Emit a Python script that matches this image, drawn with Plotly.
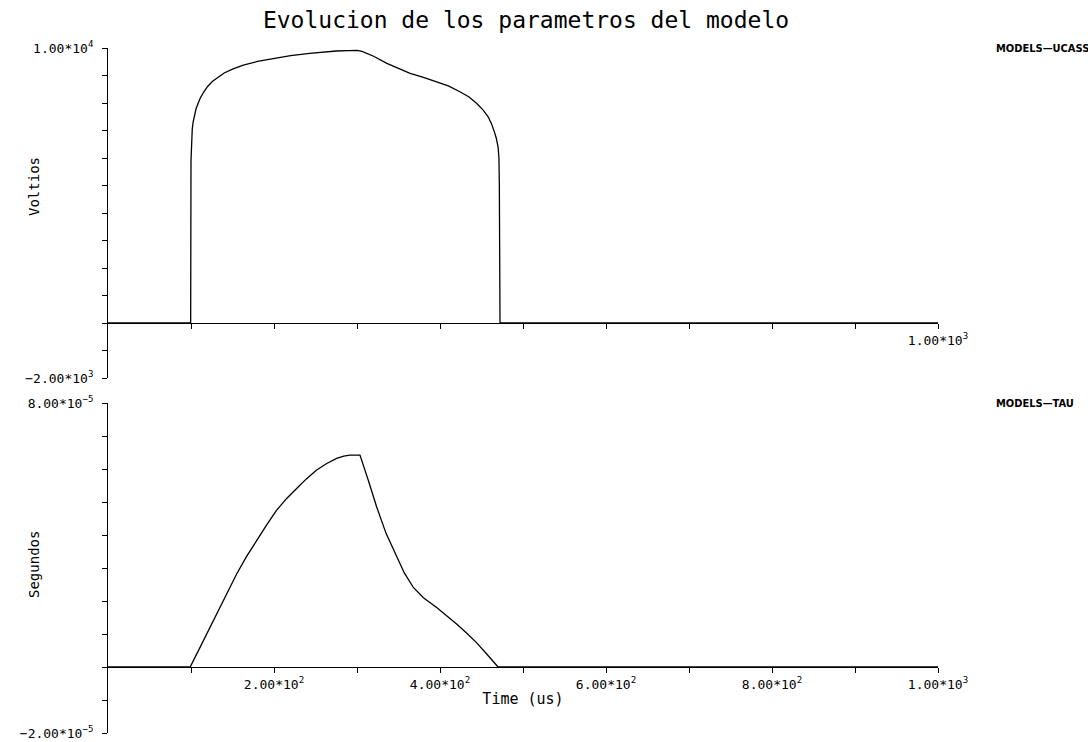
import plotly.graph_objects as go

# ---- data ----
t_ucass = [0, 99.6, 100, 100.3, 100.8, 101.5, 102.5, 104, 106, 108.5, 111, 115, 120, 126, 133,
           140, 150, 163, 180, 199, 220, 243, 260, 275, 290, 300, 306, 320, 336, 350, 364, 380,
           396, 410, 424, 435, 444, 452, 458, 462, 465.5, 468, 470, 471, 471.5, 472, 472.3, 1000]
v_ucass = [0, 0, 5900, 6400, 6780, 7050, 7300, 7560, 7780, 7980, 8170, 8380, 8600, 8790, 8950,
           9090, 9230, 9380, 9510, 9620, 9720, 9806, 9855, 9890, 9905, 9910, 9880, 9700, 9440,
           9250, 9080, 8930, 8776, 8620, 8410, 8220, 7990, 7740, 7500, 7250, 6950, 6700, 6400,
           6000, 5000, 1560, 0, 0]

t_tau = [0, 99, 110, 122.9, 140, 155, 167, 179, 191, 203, 215, 227, 239, 251, 263, 275.5, 284,
         291.6, 303.6, 313.6, 323.7, 335, 347.8, 357, 367.9, 380, 396, 408, 420, 432, 444, 456,
         465, 470, 1000]
v_tau = [0, 0, 5.5e-6, 1.195e-5, 2.05e-5, 2.82e-5, 3.35e-5, 3.83e-5, 4.3e-5, 4.745e-5, 5.1e-5,
         5.40e-5, 5.7e-5, 5.96e-5, 6.16e-5, 6.32e-5, 6.39e-5, 6.42e-5, 6.42e-5, 5.66e-5,
         4.85e-5, 4.05e-5, 3.32e-5, 2.85e-5, 2.41e-5, 2.1e-5, 1.80e-5, 1.56e-5, 1.30e-5,
         1.03e-5, 7.4e-6, 4.0e-6, 1.3e-6, 0, 0]

x_ticks = [100, 200, 300, 400, 500, 600, 700, 800, 900, 1000]
x_text_top = ["", "", "", "", "", "", "", "", "", "1.00*10<sup>3</sup>"]
x_text_bot = ["", "2.00*10<sup>2</sup>", "", "4.00*10<sup>2</sup>", "", "6.00*10<sup>2</sup>",
              "", "8.00*10<sup>2</sup>", "", "1.00*10<sup>3</sup>"]

y1_ticks = [-2000, -1000, 0, 1000, 2000, 3000, 4000, 5000, 6000, 7000, 8000, 9000, 10000]
y1_text = ["\u22122.00*10<sup>3</sup>"] + [""] * 11 + ["1.00*10<sup>4</sup>"]
y2_ticks = [-2e-5, -1e-5, 0, 1e-5, 2e-5, 3e-5, 4e-5, 5e-5, 6e-5, 7e-5, 8e-5]
y2_text = ["\u22122.00*10<sup>\u22125</sup>"] + [""] * 9 + ["8.00*10<sup>\u22125</sup>"]

y1_range = [-2000, 10000]
y2_range = [-2e-5, 8e-5]

# ---- layout geometry (body margin removed by post_script) ----
W, H = 1088, 742


def px(x):
    return x / W


def py(y):
    return 1 - y / H


xd = [px(108), px(938)]
yd1 = [py(378), py(48)]
yd2 = [py(733), py(403)]
zero1 = yd1[0] + (0 - y1_range[0]) / (y1_range[1] - y1_range[0]) * (yd1[1] - yd1[0])
zero2 = yd2[0] + (0 - y2_range[0]) / (y2_range[1] - y2_range[0]) * (yd2[1] - yd2[0])

FONT = "DejaVu Sans Mono"
tickfont = dict(family=FONT, size=13, color="black")

fig = go.Figure()
fig.add_trace(go.Scatter(x=t_ucass, y=v_ucass, mode="lines", xaxis="x", yaxis="y",
                         line=dict(color="black", width=1.3), showlegend=False))
fig.add_trace(go.Scatter(x=t_tau, y=v_tau, mode="lines", xaxis="x2", yaxis="y2",
                         line=dict(color="black", width=1.3), showlegend=False))

common_x = dict(range=[0, 1000], domain=xd, anchor="free", showline=True, linecolor="black",
                linewidth=1, ticks="outside", ticklen=5, tickcolor="black", tickvals=x_ticks,
                showgrid=False, zeroline=False, tickfont=tickfont, tickangle=0, automargin=False)
common_y = dict(showline=True, linecolor="black", linewidth=1, ticks="outside", ticklen=5,
                tickcolor="black", showgrid=False, zeroline=False, tickfont=tickfont,
                automargin=False, ticklabelstandoff=6)

fig.update_layout(
    width=W, height=H, margin=dict(l=0, r=0, t=0, b=0, autoexpand=False),
    paper_bgcolor="white", plot_bgcolor="white",
    xaxis=dict(**common_x, position=zero1, ticktext=x_text_top),
    yaxis=dict(**common_y, domain=yd1, range=y1_range, anchor="x", tickvals=y1_ticks,
               ticktext=y1_text),
    xaxis2=dict(**common_x, position=zero2, ticktext=x_text_bot,
                title=dict(text="Time (us)", font=dict(family=FONT, size=15, color="black"),
                           standoff=2)),
    yaxis2=dict(**common_y, domain=yd2, range=y2_range, anchor="x2", tickvals=y2_ticks,
                ticktext=y2_text),
    title=dict(text="Evolucion de los parametros del modelo", x=px(526), xanchor="center",
               y=py(20), yanchor="middle", xref="paper", yref="container",
               font=dict(family=FONT, size=23, color="black")),
    annotations=[
        dict(text="Voltios", x=px(34), y=py(187), xref="paper", yref="paper",
             xanchor="center", yanchor="middle",
             textangle=-90, showarrow=False, font=dict(family=FONT, size=14, color="black")),
        dict(text="Segundos", x=px(34), y=py(565), xref="paper", yref="paper",
             xanchor="center", yanchor="middle",
             textangle=-90, showarrow=False, font=dict(family=FONT, size=14, color="black")),
        dict(text="<b>MODELS\u2014UCASS</b>", x=px(994), y=py(48), xref="paper", yref="paper",
             xanchor="left", yanchor="middle", showarrow=False,
             font=dict(family="DejaVu Sans Condensed, DejaVu Sans", size=11, color="black")),
        dict(text="<b>MODELS\u2014TAU</b>", x=px(994), y=py(403), xref="paper", yref="paper",
             xanchor="left", yanchor="middle", showarrow=False,
             font=dict(family="DejaVu Sans Condensed, DejaVu Sans", size=11, color="black")),
    ],
)

fig.write_html("out.html", config={"displayModeBar": False},
               post_script="document.body.style.margin='0';document.body.style.overflow='hidden';")
